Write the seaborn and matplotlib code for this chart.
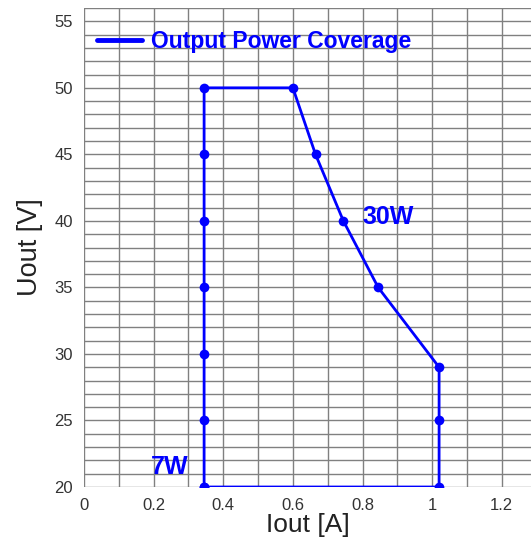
import numpy as np
import pandas as pd
import seaborn as sns
import matplotlib.pyplot as plt
from matplotlib.lines import Line2D
from matplotlib.ticker import MultipleLocator

# operating envelope, walked round the polygon
iout = [0.345, 0.345, 0.345, 0.345, 0.345, 0.345, 0.345,
        0.60, 0.665, 0.745, 0.845, 1.02, 1.02, 1.02, 0.345]
uout = [20, 25, 30, 35, 40, 45, 50,
        50, 45, 40, 35, 29, 25, 20, 20]
series_name = "Output Power Coverage"

df = pd.DataFrame({"Iout": iout, "Uout": uout, "step": range(len(iout))})

sns.set_style("white")
plt.rcParams['font.family'] = ['Liberation Sans', 'DejaVu Sans']

fig = plt.figure(figsize=(5.31, 5.42), dpi=100)
ax = fig.add_axes([84 / 531, 55 / 542, 1 - 84 / 531, 479 / 542])

sns.lineplot(data=df, x="Iout", y="Uout", sort=False, estimator=None,
             color="#0000ff", lw=2, marker="o", markersize=7,
             markeredgewidth=0, ax=ax)

ax.set_xlim(0, 1.284)
ax.set_ylim(20, 56)
ax.xaxis.set_major_locator(MultipleLocator(0.2))
ax.xaxis.set_minor_locator(MultipleLocator(0.1))
ax.yaxis.set_major_locator(MultipleLocator(5))
ax.yaxis.set_minor_locator(MultipleLocator(1))
ax.xaxis.set_major_formatter(lambda v, p: f"{v:g}")
ax.grid(which="both", color="#808080", lw=1)
ax.set_axisbelow(True)
for s in ax.spines.values():
    s.set_visible(False)
ax.tick_params(which="both", length=0, labelsize=12, colors="#333333")
ax.tick_params(axis="y", pad=8)
ax.tick_params(axis="x", pad=8)

ax.set_xlabel("Iout [A]", fontsize=19, color="#222222", labelpad=0)
ax.set_ylabel("Uout [V]", fontsize=19.5, color="#222222", labelpad=8)

ax.text(0.80, 39.8, "30W", color="#0000ff", fontsize=18, fontweight="bold")
ax.text(0.30, 21.0, "7W", color="#0000ff", fontsize=18, fontweight="bold", ha="right")

handle = Line2D([], [], color="#0000ff", lw=3.5)
leg = ax.legend([handle], [series_name], loc="upper left", frameon=False,
                bbox_to_anchor=(0.029, 0.954), borderaxespad=0, borderpad=0,
                handlelength=1.95, handletextpad=0.4,
                prop={"size": 16.5, "weight": "bold"})
for t in leg.get_texts():
    t.set_color("#0000ff")

fig.savefig("out.png", dpi=100)
